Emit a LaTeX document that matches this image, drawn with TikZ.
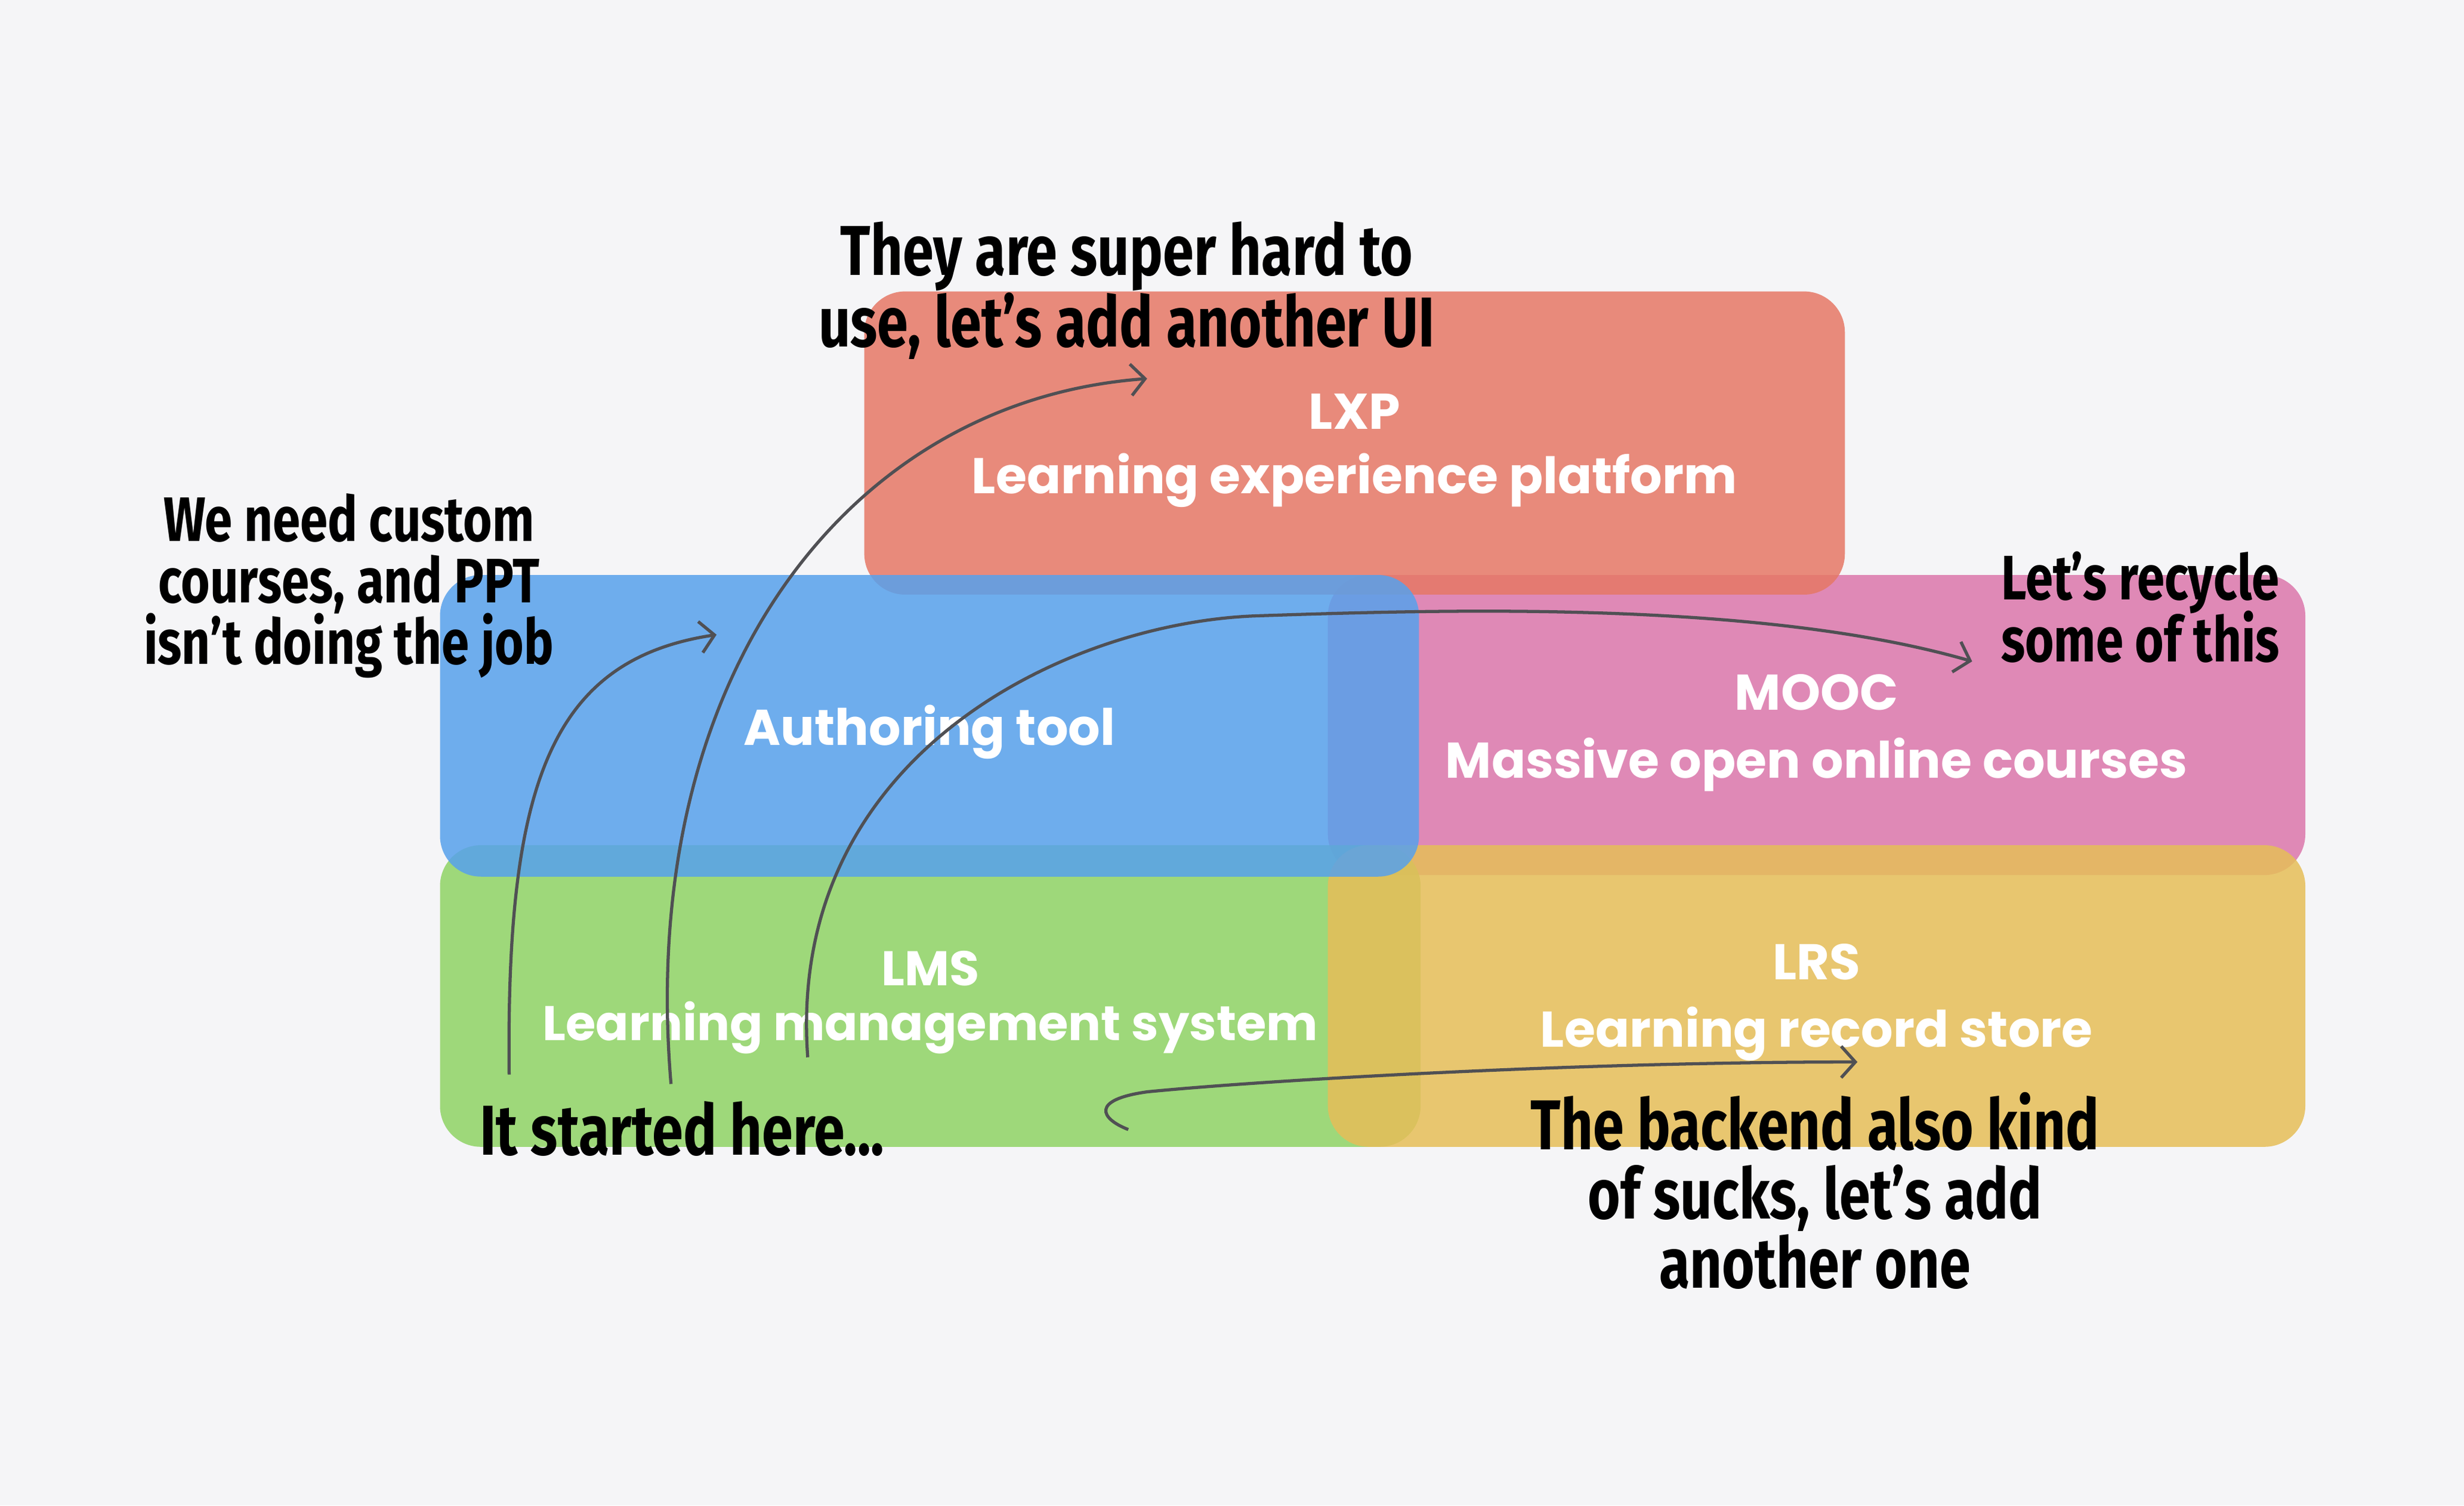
\documentclass[tikz,border=0pt]{standalone}
\usepackage{fontspec}
\setmainfont{Poppins}
\newfontfamily\handfont{Fira Sans}[FakeStretch=0.79]
\usetikzlibrary{arrows.meta}
\definecolor{bgc}{RGB}{245,245,247}
\definecolor{lxpc}{RGB}{230,120,102}
\definecolor{authc}{RGB}{87,161,236}
\definecolor{moocc}{RGB}{220,119,171}
\definecolor{lmsc}{RGB}{143,211,101}
\definecolor{lrsc}{RGB}{230,190,88}
\definecolor{arrc}{RGB}{80,80,84}
\begin{document}
\begin{tikzpicture}[x=1pt,y=-1pt,
  sysbox/.style={rounded corners=26pt, fill opacity=0.85, inner sep=0pt},
  syslabel/.style={text=white, font=\fontsize{32}{43}\selectfont\bfseries, align=center, inner sep=0pt},
  note/.style={font=\handfont\bfseries\fontsize{40}{41}\selectfont, align=center, text=black, inner sep=0pt, anchor=north},
  bignote/.style={note, font=\handfont\bfseries\fontsize{45}{44}\selectfont},
  arr/.style={draw=arrc, line width=2pt, -{Straight Barb[length=9pt,width=20pt]}}]
\fill[bgc] (0,0) rectangle (1568,958.3);
% boxes
\node[sysbox, fill=moocc, minimum width=622pt, minimum height=191pt] (mooc) at (1156,461.5) {};
\node[sysbox, fill=lxpc, minimum width=624pt, minimum height=193pt] (lxp) at (862,282) {};
\node[sysbox, fill=lmsc, minimum width=624pt, minimum height=192pt] (lms) at (592,634) {};
\node[sysbox, fill=lrsc, minimum width=622pt, minimum height=192pt] (lrs) at (1156,634) {};
\node[sysbox, fill=authc, minimum width=623pt, minimum height=192pt] (auth) at (591.5,462) {};
% box labels
\node[syslabel] (mooct) at ([yshift=-5pt]mooc.center) {MOOC\\Massive open online courses};
\node[syslabel] (lxpt) at ([yshift=-5pt]lxp.center) {LXP\\[-2pt]Learning experience platform};
\node[syslabel, font=\fontsize{31}{43}\selectfont\bfseries] (lmst) at ([yshift=-4pt]lms.center) {LMS\\[-8pt]Learning management system};
\node[syslabel] (lrst) at ([yshift=-4pt]lrs.center) {LRS\\Learning record store};
\node[syslabel] (autht) at ([yshift=-4pt]auth.center) {Authoring tool};
% notes
\node[bignote] (n1) at (717,141) {They are super hard to\\use, let’s add another UI};
\node[note] (n2) at (222,314) {We need custom\\[-2pt]courses, and PPT\\[-2pt]isn’t doing the job};
\node[note] (n3) at (1362,351) {Let’s recycle\\[-3pt]some of this};
\node[bignote] (n4) at (434,701) {It started here...};
\node[bignote] (n5) at (1155,695) {The backend also kind\\of sucks, let’s add\\another one};
% arrow end points
\coordinate (a1) at (324,684); \coordinate (a2) at (456,404);
\coordinate (b1) at (427,690); \coordinate (b2) at (730,241);
\coordinate (c1) at (514,673); \coordinate (cm) at (800,392); \coordinate (c2) at (1255,421);
\coordinate (d1) at (718,719); \coordinate (dm) at (730,695); \coordinate (d2) at (1182,676);
\draw[arr] (a1) .. controls (322,500) and (350,420) .. (a2);
\draw[arr] (b1) .. controls (405,430) and (540,255) .. (b2);
\draw[arr] (c1) .. controls (500,480) and (680,396) .. (cm) .. controls (920,388) and (1120,382) .. (c2);
\draw[arr] (d1) .. controls (700,712) and (694,700) .. (dm) .. controls (800,688) and (1000,676) .. (d2);
\end{tikzpicture}
\end{document}
